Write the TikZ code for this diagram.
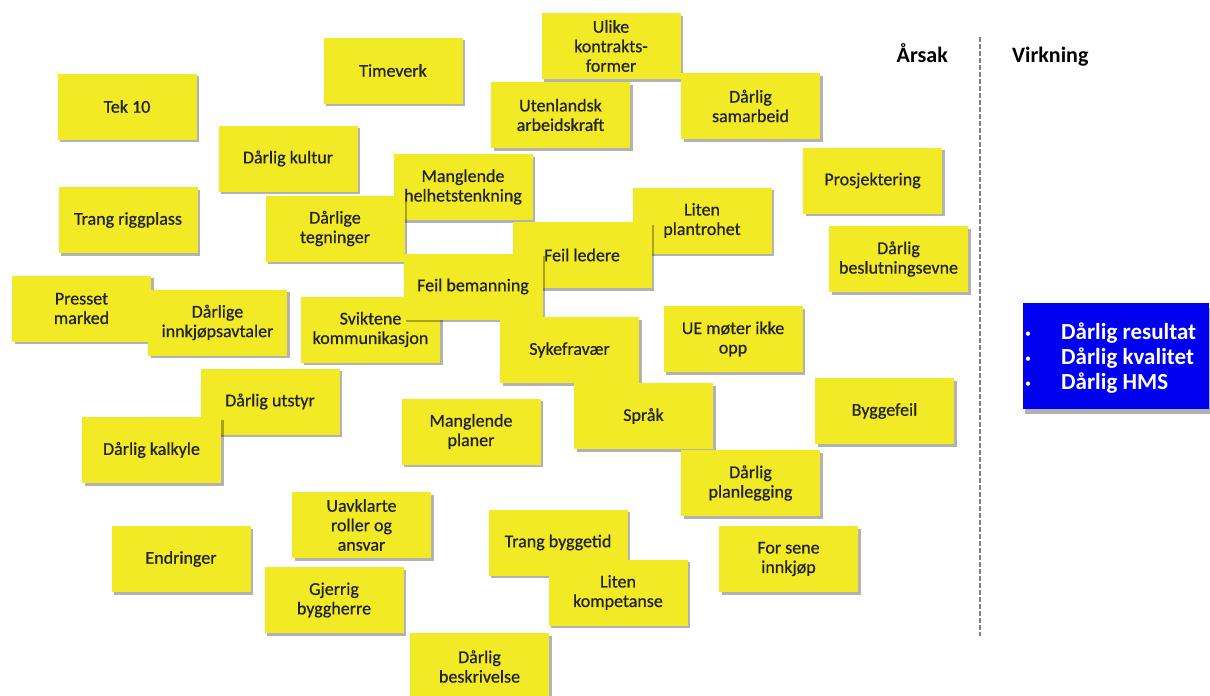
\documentclass[tikz,border=0pt]{standalone}
\usepackage{fontspec}
\setmainfont{Carlito}
\newfontfamily\notefont{Carlito}[FakeBold=0.7]
\usetikzlibrary{shadows}
\definecolor{stickyyellow}{RGB}{241,234,36}
\definecolor{txtdark}{RGB}{35,35,35}
\definecolor{effblue}{RGB}{0,0,240}
\definecolor{sepgray}{RGB}{130,130,130}
\begin{document}
\begin{tikzpicture}[x=1pt,y=-1pt,
  note/.style={fill=stickyyellow, minimum width=139pt, minimum height=66pt,
    inner sep=0pt, align=center, text=txtdark,
    font=\notefont\fontsize{18}{19.5}\selectfont,
    drop shadow={shadow xshift=2.5pt, shadow yshift=-2.5pt, fill=black, opacity=0.3}},
  header/.style={font=\fontsize{22}{24}\selectfont\bfseries, text=black, inner sep=0pt},
  efftext/.style={font=\fontsize{23}{25}\selectfont\bfseries, text=white, inner sep=0pt},
  effbullet/.style={font=\fontsize{12}{12}\selectfont, text=white, inner sep=0pt},
  sepline/.style={sepgray, line width=2.2pt, dash pattern=on 5pt off 2pt}
]
\useasboundingbox (0,0) rectangle (1210,696);
\clip (0,0) rectangle (1210,696);
\fill[white] (0,0) rectangle (1210,696);

% later nodes lie on top
\node[note] (tek) at (127,106.5) {Tek 10};
\node[note] (timeverk) at (393,70.5) {Timeverk};
\node[note] (ulike) at (611,46) {Ulike\\kontrakts-\\former};
\node[note] (utenlandsk) at (560.5,115) {Utenlandsk\\arbeidskraft};
\node[note] (samarbeid) at (750.5,106) {Dårlig\\samarbeid};
\node[note] (kultur) at (288,158.5) {Dårlig kultur};
\node[note] (rigg) at (128,220) {Trang riggplass};
\node[note] (helhet) at (463,187) {Manglende\\helhetstenkning};
\node[note] (tegninger) at (335,228.5) {Dårlige\\tegninger};
\node[note] (prosjektering) at (872.5,180.5) {Prosjektering};
\node[note] (beslutning) at (898.5,259) {Dårlig\\beslutningsevne};
\node[note] (plantrohet) at (702,220.5) {Liten\\plantrohet};
\node[note] (ledere) at (582,255) {Feil ledere};
\node[note] (presset) at (81.5,308.5) {Presset\\marked};
\node[note] (innkjop) at (217.5,322.5) {Dårlige\\innkjøpsavtaler};
\node[note] (sviktene) at (370.5,329.5) {Sviktene\\kommunikasjon};
\node[note] (bemanning) at (473,286.5) {Feil bemanning};
\node[note] (ue) at (733,339) {UE møter ikke\\opp};
\node[note] (syke) at (569.5,350) {Sykefravær};
\node[note] (sprak) at (643.5,416) {Språk};
\node[note] (utstyr) at (270,401.5) {Dårlig utstyr};
\node[note] (kalkyle) at (151.5,450) {Dårlig kalkyle};
\node[note] (planer) at (471,431.5) {Manglende\\planer};
\node[note] (byggefeil) at (884.5,411) {Byggefeil};
\node[note] (planlegging) at (750.5,483) {Dårlig\\planlegging};
\node[note] (uavklarte) at (361.5,525) {Uavklarte\\roller og\\ansvar};
\node[note] (endringer) at (181,559) {Endringer};
\node[note] (gjerrig) at (334,600) {Gjerrig\\byggherre};
\node[note] (byggetid) at (558,542.5) {Trang byggetid};
\node[note] (kompetanse) at (618,592.5) {Liten\\kompetanse};
\node[note] (forsene) at (788.5,559) {For sene\\innkjøp};
\node[note, minimum height=67pt] (beskrivelse) at (479.5,666.5) {Dårlig\\beskrivelse};

% headers
\node[header, anchor=base east] (arsak) at (948,62) {Årsak};
\node[header, anchor=base west] (virkning) at (1012,62) {Virkning};

% separator
\coordinate (septop) at (980,37);
\coordinate (sepbot) at (980,636);
\draw[sepline] (septop) -- (sepbot);

% effect box
\node[fill=effblue, minimum width=186pt, minimum height=106pt, inner sep=0pt,
  drop shadow={shadow xshift=2pt, shadow yshift=-5pt, fill=black, opacity=0.3}]
  (effect) at (1116,356) {};
\node[effbullet, anchor=base] (b1) at (1028,337) {\textbullet};
\node[effbullet, anchor=base] (b2) at (1028,362) {\textbullet};
\node[effbullet, anchor=base] (b3) at (1028,387) {\textbullet};
\node[efftext, anchor=base west] (e1) at (1061,339) {Dårlig resultat};
\node[efftext, anchor=base west] (e2) at (1061,364) {Dårlig kvalitet};
\node[efftext, anchor=base west] (e3) at (1061,389) {Dårlig HMS};
\end{tikzpicture}
\end{document}
